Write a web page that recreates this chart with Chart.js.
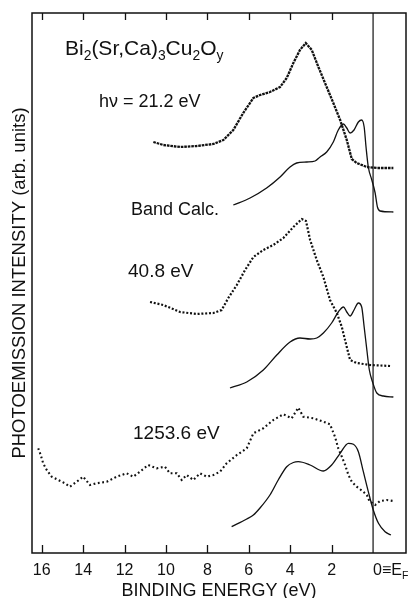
<!DOCTYPE html>
<html><head><meta charset="utf-8">
<script src="https://cdn.jsdelivr.net/npm/chart.js@4.4.0/dist/chart.umd.min.js"></script>
<style>html,body{margin:0;padding:0;background:#fff}#wrap{width:411px;height:598px;position:relative}</style>
</head><body><div id="wrap"><canvas id="c"></canvas></div>
<script>
const FONT = "'Liberation Sans', Arial, sans-serif";
const tickValues = [16, 14, 12, 10, 8, 6, 4, 2, 0];

// hv = 21.2 eV spectrum
const uv21E = [10.61,10.13,9.32,8.52,7.71,7.23,6.75,6.27,5.78,5.46,4.98,4.49,4.17,3.85,3.53,3.25,2.96,2.64,2.24,1.92,1.59,1.27,1.03,0.79,0.30,-0.18,-0.98];
const uv21I = [41.1,40.8,40.6,40.7,40.9,41.3,42.3,44.0,45.5,45.8,46.1,46.6,47.5,49.0,50.3,51.0,50.3,48.6,46.6,45.0,43.3,41.3,39.4,39.0,38.6,38.5,38.5];
// band calc (upper)
const band1E = [6.75,5.94,5.14,4.49,4.01,3.69,3.2,2.8,2.56,2.24,1.92,1.68,1.43,1.27,1.11,0.92,0.71,0.55,0.43,0.34,0.23,0.06,-0.10,-0.21,-0.34,-0.98];
const band1I = [34.8,35.5,36.5,37.6,38.6,39.0,39.1,39.2,39.6,40.1,41.1,42.3,42.9,42.5,42.0,42.3,43.1,43.3,42.6,40.6,38.6,37.3,36.0,34.6,34.2,34.1];
// 40.8 eV spectrum
const uv40E = [10.77,10.13,9.32,8.52,7.71,7.31,6.99,6.58,6.18,5.78,5.30,4.82,4.33,3.85,3.44,3.24,3.04,2.72,2.40,2.08,1.75,1.51,1.27,1.11,0.79,0.14,-0.82];
const uv40I = [25.1,24.8,24.1,23.9,24.0,24.3,25.5,26.8,28.3,29.6,30.3,30.8,31.5,32.6,33.4,33.2,31.3,29.3,27.6,25.3,24.0,22.6,20.6,19.3,19.0,18.8,18.7];
// band calc (middle)
const band2E = [6.91,6.10,5.30,4.65,4.01,3.53,3.04,2.72,2.40,2.0,1.68,1.43,1.27,1.11,0.92,0.71,0.55,0.43,0.30,0.18,0.01,-0.18,-0.5,-0.98];
const band2I = [16.5,17.1,18.3,19.8,21.1,21.5,21.4,21.5,22.0,23.0,24.1,24.6,24.1,23.7,24.3,25.0,24.6,22.6,20.3,18.3,17.0,16.0,15.7,15.6];
// 1253.6 eV spectrum
const xpsE = [16.17,16.05,15.93,15.76,15.52,15.20,14.88,14.64,14.31,14.00,13.67,13.35,12.86,12.38,11.90,11.58,11.26,10.86,10.45,10.05,9.81,9.48,9.24,9.00,8.68,8.36,8.03,7.71,7.39,7.07,6.58,6.10,5.78,5.30,4.82,4.33,3.93,3.61,3.37,2.88,2.40,2.08,1.84,1.68,1.51,1.35,1.19,1.03,0.79,0.47,0.30,0.18,-0.10,-0.34,-0.66,-0.98];
const xpsI = [10.47,9.8,8.97,8.3,7.63,7.3,6.97,6.63,7.13,7.63,6.8,6.97,7.13,7.63,7.97,7.63,8.13,8.8,8.47,8.63,7.97,7.97,7.3,7.8,7.3,7.97,7.63,7.8,8.13,8.97,9.8,10.47,11.97,12.47,13.3,13.87,13.47,14.53,13.63,13.47,13.13,12.87,11.63,10.47,9.63,8.8,7.8,7.13,6.63,6.13,5.8,5.2,4.8,5.2,5.3,5.2];
// band calc (lower)
const band3E = [6.83,6.10,5.78,5.46,4.98,4.58,4.17,3.85,3.61,3.04,2.40,2.0,1.59,1.19,0.95,0.71,0.47,0.23,-0.01,-0.26,-0.58,-0.86];
const band3I = [2.63,3.4,3.8,4.5,5.8,7.3,8.63,9.05,9.13,8.8,8.2,8.8,9.97,10.97,10.87,10.13,8.13,6.13,4.3,2.97,2.13,1.8];
// Fermi level line
const efE = [0, 0];
const efI = [0, 54];

function pts(E, I) { return E.map((e, i) => ({x: e, y: I[i]})); }

const dotted = (dash, w) => ({showLine: true, borderColor: '#111', borderWidth: w, borderDash: dash, pointRadius: 0, tension: 0, fill: false});
const solid = {showLine: true, borderColor: '#111', borderWidth: 1.3, pointRadius: 0, tension: 0.4, cubicInterpolationMode: 'monotone', fill: false};

function rich(ctx, x, y, parts, size) {
  let cx = x;
  for (const [t, sub] of parts) {
    const fs = sub ? size * 0.66 : size;
    ctx.font = fs + 'px ' + FONT;
    ctx.fillText(t, cx, y + (sub ? size * 0.26 : 0));
    cx += ctx.measureText(t).width;
  }
}

const framePlugin = {
  id: 'frame',
  afterDraw(chart) {
    const {ctx, chartArea: a, scales: {x}} = chart;
    ctx.save();
    ctx.strokeStyle = '#111';
    ctx.lineWidth = 1.5;
    ctx.strokeRect(a.left, a.top, a.right - a.left, a.bottom - a.top);
    ctx.lineWidth = 1.3;
    ctx.beginPath();
    for (const v of tickValues) {
      if (v === 0) continue;
      const px = Math.round(x.getPixelForValue(v)) + 0.5;
      ctx.moveTo(px, a.bottom); ctx.lineTo(px, a.bottom - 8);
      ctx.moveTo(px, a.top); ctx.lineTo(px, a.top + 7);
    }
    ctx.stroke();
    ctx.fillStyle = '#111';
    ctx.textBaseline = 'alphabetic';
    ctx.textAlign = 'left';
    // 0 = E_F tick label
    const x0 = x.getPixelForValue(0);
    rich(ctx, x0, a.bottom + 22, [['0\u2261E', false], ['F', true]], 16);
    // annotations
    rich(ctx, 65, 55, [['Bi', false], ['2', true], ['(Sr,Ca)', false], ['3', true], ['Cu', false], ['2', true], ['O', false], ['y', true]], 21);
    rich(ctx, 99, 107, [['h\u03BD = 21.2 eV', false]], 18);
    rich(ctx, 131, 215, [['Band Calc.', false]], 18);
    rich(ctx, 128, 277, [['40.8 eV', false]], 19);
    rich(ctx, 133, 439, [['1253.6 eV', false]], 19);
    ctx.restore();
  }
};

new Chart(document.getElementById('c'), {
  type: 'scatter',
  data: {
    datasets: [
      Object.assign({label: '21.2 eV', data: pts(uv21E, uv21I)}, dotted([2.6, 0.9], 2.3)),
      Object.assign({label: 'Band Calc. (21.2)', data: pts(band1E, band1I)}, solid),
      Object.assign({label: '40.8 eV', data: pts(uv40E, uv40I)}, dotted([2, 1.8], 2.2)),
      Object.assign({label: 'Band Calc. (40.8)', data: pts(band2E, band2I)}, solid),
      Object.assign({label: '1253.6 eV', data: pts(xpsE, xpsI)}, dotted([1.8, 2.6], 2.1)),
      Object.assign({label: 'Band Calc. (1253.6)', data: pts(band3E, band3I)}, solid),
      {label: 'EF', data: pts(efE, efI), showLine: true, borderColor: '#111', borderWidth: 1.2, pointRadius: 0}
    ]
  },
  options: {
    responsive: true, maintainAspectRatio: false, animation: false, devicePixelRatio: 1,
    layout: {padding: {top: 13, right: 5, left: 0, bottom: 0}},
    plugins: {legend: {display: false}, tooltip: {enabled: false}},
    scales: {
      x: {
        type: 'linear', reverse: true, min: -1.59, max: 16.47,
        grid: {display: false, drawTicks: false}, border: {display: false},
        afterBuildTicks: s => { s.ticks = tickValues.map(v => ({value: v})); },
        afterFit: s => { s.height = 45; },
        ticks: {autoSkip: false, maxRotation: 0, padding: 8, color: '#111', font: {family: FONT, size: 16},
          callback: v => (v === 0 ? '' : String(v))},
        title: {display: true, text: 'BINDING ENERGY (eV)', color: '#111', font: {family: FONT, size: 18}, padding: {top: 0, bottom: -4}}
      },
      y: {
        min: 0, max: 54,
        grid: {display: false, drawTicks: false}, border: {display: false},
        ticks: {display: false},
        afterFit: s => { s.width = 32; },
        title: {display: true, text: 'PHOTOEMISSION INTENSITY (arb. units)', color: '#111', font: {family: FONT, size: 18.5}, padding: {top: 9, bottom: 0}}
      }
    }
  },
  plugins: [framePlugin]
});
</script>
</body></html>
